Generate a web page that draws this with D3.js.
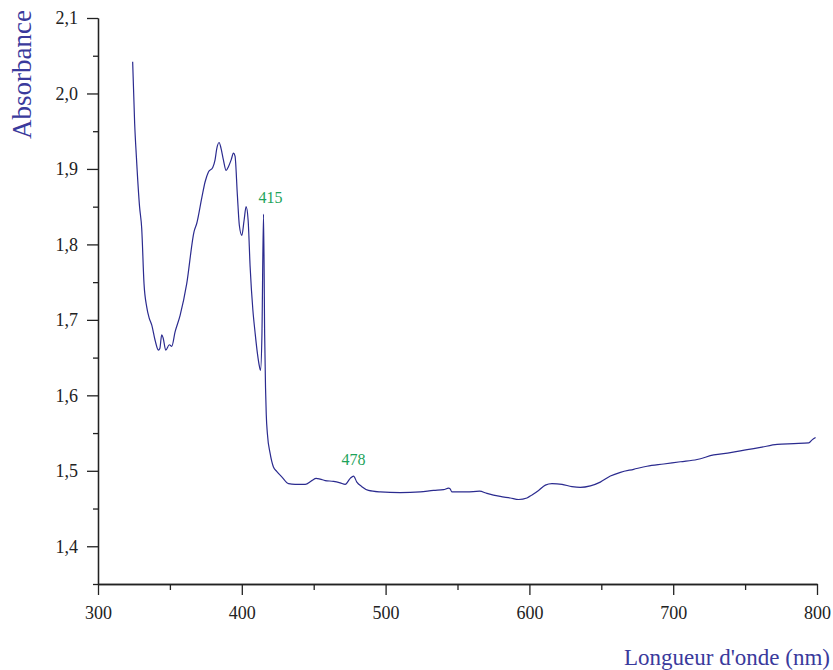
<!DOCTYPE html>
<html>
<head>
<meta charset="utf-8">
<script src="https://cdn.jsdelivr.net/npm/d3@7"></script>
<style>
  html, body { margin: 0; padding: 0; background: #fff; }
  svg { display: block; }
  svg text { font-family: "Liberation Serif", "Times New Roman", Times, serif; }
</style>
</head>
<body>
<script>
// spectrum
const wavelength = [
  324.1, 325.5, 326.7, 328.9, 330.4, 332.0, 333.9, 335.5, 337.4, 339.7,
  342.0, 343.0, 344.3, 345.3, 347.1, 349.6, 351.3, 353.6, 357.1, 361.7,
  366.8, 368.7, 372.2, 374.5, 376.8, 379.8, 381.4, 382.6, 384.2, 385.6,
  387.2, 389.1, 390.7, 392.6, 394.2, 395.3, 396.9, 398.3, 400.0, 401.6,
  403.0, 404.4, 405.8, 407.7, 409.3, 410.9, 412.3, 413.0, 414.0, 415.1,
  415.9, 416.5, 417.0, 417.8, 419.7, 422.0, 424.4, 427.8, 432.5, 437.1,
  444.1, 448.7, 451.7, 454.5, 458.0, 463.8, 468.4, 471.9, 475.4, 477.7,
  480.0, 483.5, 488.1, 496.2, 510.2, 524.1, 533.3, 540.3, 543.8, 544.9,
  546.1, 556.5, 565.3, 570.5, 579.7, 586.7, 592.5, 598.3, 601.8, 606.4,
  611.1, 615.7, 622.7, 629.6, 635.4, 642.4, 649.3, 656.3, 663.3, 672.5,
  681.8, 693.4, 705.0, 716.6, 728.2, 739.8, 751.4, 760.7, 772.3, 783.9,
  794.3, 796.6, 799.0
];
const absorbance = [
  2.042, 1.960, 1.916, 1.850, 1.821, 1.748, 1.717, 1.703, 1.693, 1.673,
  1.660, 1.662, 1.680, 1.676, 1.660, 1.667, 1.665, 1.684, 1.706, 1.748,
  1.817, 1.828, 1.862, 1.883, 1.896, 1.902, 1.912, 1.927, 1.935, 1.927,
  1.912, 1.898, 1.903, 1.912, 1.921, 1.917, 1.866, 1.825, 1.812, 1.832,
  1.850, 1.832, 1.770, 1.713, 1.682, 1.655, 1.638, 1.633, 1.680, 1.840,
  1.680, 1.610, 1.575, 1.549, 1.523, 1.505, 1.499, 1.492, 1.483, 1.482,
  1.482, 1.487, 1.490, 1.489, 1.487, 1.486, 1.484, 1.482, 1.490, 1.493,
  1.485, 1.479, 1.474, 1.472, 1.471, 1.472, 1.474, 1.475, 1.477, 1.476,
  1.472, 1.472, 1.473, 1.470, 1.466, 1.464, 1.462, 1.464, 1.468, 1.474,
  1.481, 1.483, 1.482, 1.479, 1.478, 1.480, 1.485, 1.493, 1.498, 1.502,
  1.506, 1.509, 1.512, 1.515, 1.521, 1.524, 1.528, 1.531, 1.535, 1.536,
  1.537, 1.541, 1.544
];

// peak labels
const peakWl = [415.1, 477.7];
const peakAbs = [1.840, 1.493];
const peakText = ["415", "478"];

const xMajorTicks = [300, 400, 500, 600, 700, 800];
const yMajorTicks = [1.4, 1.5, 1.6, 1.7, 1.8, 1.9, 2.0, 2.1];

const width = 833, height = 670;
const margin = {top: 18, right: 16, bottom: 86, left: 98};
const serif = "Liberation Serif";

const lineColor = "#2b2b8f";
const titleColor = "#3a3a9c";
const peakColor = "#1da35a";
const axisColor = "#222";

const svg = d3.select("body").append("svg")
    .attr("width", width).attr("height", height)
    .attr("font-family", serif);

const x = d3.scaleLinear().domain([300, 800]).range([margin.left, width - margin.right]);
const y = d3.scaleLinear().domain([1.35, 2.1]).range([height - margin.bottom, margin.top]);

const fmt = d3.format(".1f");
const comma = v => fmt(v).replace(".", ",");

// minor ticks every half step
const xMinor = d3.range(300, 801, 50).filter(v => v % 100 !== 0);
const yMinor = d3.range(0, 16).map(i => +(1.35 + i * 0.05).toFixed(2)).filter(v => Math.round(v * 100) % 10 !== 0);

const xAxisMinor = svg.append("g")
    .attr("transform", `translate(0,${y(1.35)})`)
    .call(d3.axisBottom(x).tickValues(xMinor).tickSize(6).tickSizeOuter(0).tickFormat(""));
const xAxis = svg.append("g")
    .attr("transform", `translate(0,${y(1.35)})`)
    .call(d3.axisBottom(x).tickValues(xMajorTicks).tickSize(11).tickSizeOuter(0).tickPadding(11).tickFormat(d3.format("d")));

const yAxisMinor = svg.append("g")
    .attr("transform", `translate(${x(300)},0)`)
    .call(d3.axisLeft(y).tickValues(yMinor).tickSize(5).tickSizeOuter(0).tickFormat(""));
const yAxis = svg.append("g")
    .attr("transform", `translate(${x(300)},0)`)
    .call(d3.axisLeft(y).tickValues(yMajorTicks).tickSize(11).tickSizeOuter(0).tickPadding(9).tickFormat(comma));

[xAxisMinor, xAxis, yAxisMinor, yAxis].forEach(g => {
  g.attr("font-family", serif).attr("font-size", 18);
  g.selectAll("path, line").attr("stroke", axisColor).attr("stroke-width", 1.3);
  g.selectAll("text").attr("fill", axisColor);
});

const line = d3.line()
    .x(i => x(wavelength[i]))
    .y(i => y(absorbance[i]))
    .curve(d3.curveMonotoneX);

svg.append("path")
    .datum(d3.range(wavelength.length))
    .attr("d", line)
    .attr("fill", "none")
    .attr("stroke", lineColor)
    .attr("stroke-width", 1.2)
    .attr("stroke-linejoin", "round");

// peak annotations
const labelDx = [7, 0];
svg.append("g").selectAll("text")
    .data(peakText)
    .join("text")
    .attr("x", (d, i) => x(peakWl[i]) + labelDx[i])
    .attr("y", (d, i) => y(peakAbs[i]) - 11)
    .attr("text-anchor", "middle")
    .attr("fill", peakColor)
    .attr("font-family", serif)
    .attr("font-size", 16)
    .text(d => d);

// axis titles
svg.append("text")
    .attr("transform", `translate(31,${margin.top - 8}) rotate(-90)`)
    .attr("text-anchor", "end")
    .attr("fill", titleColor)
    .attr("font-family", serif)
    .attr("font-size", 27)
    .text("Absorbance");

svg.append("text")
    .attr("x", width - 3)
    .attr("y", 665)
    .attr("text-anchor", "end")
    .attr("fill", titleColor)
    .attr("font-family", serif)
    .attr("font-size", 23)
    .text("Longueur d'onde (nm)");
</script>
</body>
</html>
